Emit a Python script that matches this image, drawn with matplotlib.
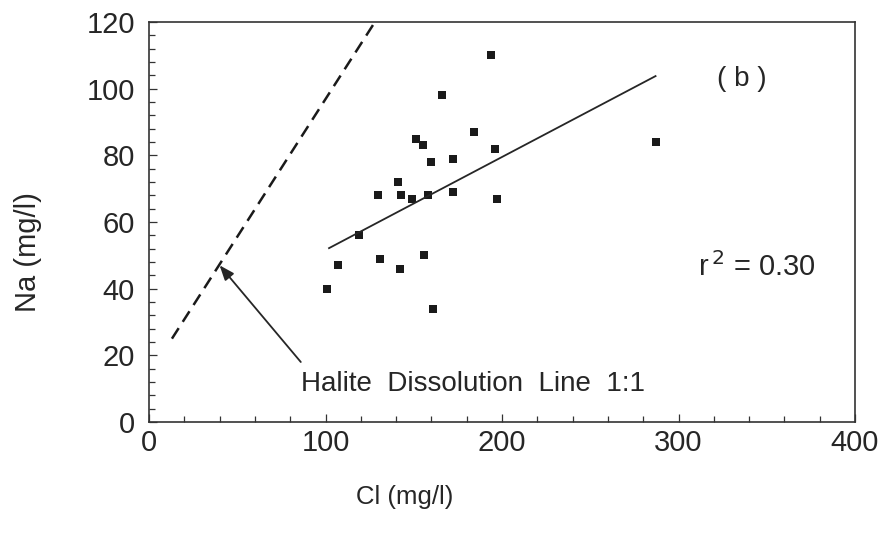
import matplotlib
matplotlib.use("Agg")
import matplotlib.pyplot as plt
from matplotlib.ticker import MultipleLocator
import numpy as np

# ---- data ----
cl = [194, 166, 184, 151, 155, 196, 172, 160, 141, 130, 143, 149, 158, 172, 197,
      119, 107, 131, 142, 156, 101, 161, 287]
na = [110, 98, 87, 85, 83, 82, 79, 78, 72, 68, 68, 67, 68, 69, 67,
      56, 47, 49, 46, 50, 40, 34, 84]

fit_x = [102, 287]          # extent of regression line
fit_slope = 0.279
fit_intercept = 23.7

halite_x = [13, 128]        # dashed "halite dissolution" line
halite_y = [25, 120]

x_ticks = [0, 100, 200, 300, 400]
y_ticks = [0, 20, 40, 60, 80, 100, 120]

FONT = "Liberation Sans"
TXT = "#262626"

fig = plt.figure(figsize=(8.88, 5.41), dpi=100)
W, H = 888, 541
ax = fig.add_axes([149 / W, (H - 422) / H, (855 - 149) / W, (422 - 22) / H])

ax.set_xlim(0, 400)
ax.set_ylim(0, 120)

ax.plot(cl, na, linestyle="none", marker="s", markersize=5.5,
        color="#1a1a1a", markeredgewidth=0)

fx = np.array(fit_x, dtype=float)
ax.plot(fx, fit_slope * fx + fit_intercept, color="#262626", lw=1.3)

ax.plot(halite_x, halite_y, color="#1a1a1a", lw=1.8, dashes=(5, 3))

ax.annotate("", xy=(40, 47), xytext=(86, 18),
            arrowprops=dict(arrowstyle="-|>,head_length=0.9,head_width=0.35",
                            color="#262626", lw=1.3, shrinkA=0, shrinkB=0))

ax.text(86, 11.3, "Halite  Dissolution  Line  1:1", fontsize=20,
        family=FONT, color=TXT, ha="left", va="center")
ax.text(311, 46.5, r"r$^{\,2}$ = 0.30", fontsize=21, family=FONT,
        color=TXT, ha="left", va="center")
ax.text(336, 103, "( b )", fontsize=20, family=FONT, color=TXT,
        ha="center", va="center")

ax.set_xticks(x_ticks)
ax.set_yticks(y_ticks)
ax.xaxis.set_minor_locator(MultipleLocator(20))
ax.yaxis.set_minor_locator(MultipleLocator(4))
ax.tick_params(which="both", direction="in", color="#333333", width=0.9,
               top=False, right=False)
ax.tick_params(which="major", length=6)
ax.tick_params(which="minor", length=4)
ax.tick_params(axis="x", which="major", pad=5, labelsize=21, labelcolor=TXT)
ax.tick_params(axis="y", which="major", pad=10, labelsize=21, labelcolor=TXT)
for lab in ax.get_xticklabels() + ax.get_yticklabels():
    lab.set_family(FONT)

for s in ax.spines.values():
    s.set_color("#333333")
    s.set_linewidth(1.2)

fig.text(405 / W, 1 - 497 / H, "Cl (mg/l)", fontsize=18.5, family=FONT,
         color=TXT, ha="center", va="center")
fig.text(28 / W, 1 - 252 / H, "Na (mg/l)", fontsize=21, family=FONT,
         color=TXT, ha="center", va="center", rotation=90)

fig.savefig("out.png", dpi=100)
